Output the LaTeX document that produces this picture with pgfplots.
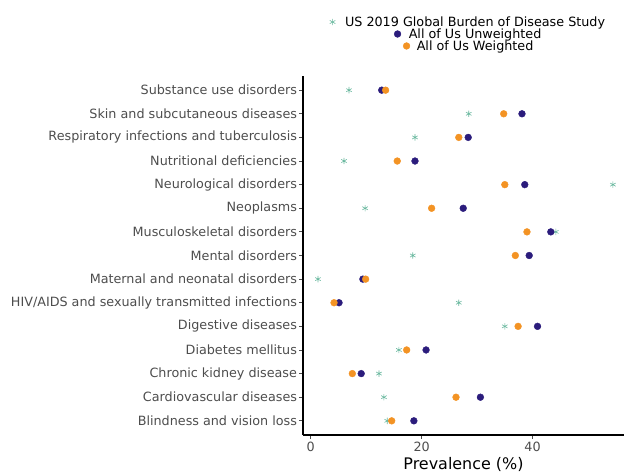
\documentclass[border=0pt]{standalone}
\usepackage{fontspec}
\setmainfont{DejaVu Sans}
\usepackage{pgfplots}
\usepackage{pgfplotstable}
\pgfplotsset{compat=1.18}

\definecolor{gbd}{HTML}{6BB9A0}
\definecolor{unw}{HTML}{2B1C7C}
\definecolor{wtd}{HTML}{F39324}
\definecolor{tickgrey}{HTML}{4D4D4D}

% y = row (1 = bottom), values in percent
\pgfplotstableread{
y   gbd   unw   wtd
1   13.8  18.6  14.6
2   13.2  30.6  26.2
3   12.3  9.1   7.5
4   15.9  20.8  17.3
5   35.0  40.9  37.4
6   26.7  5.1   4.2
7   1.3   9.4   9.9
8   18.4  39.4  36.9
9   44.2  43.3  39.0
10  9.8   27.5  21.8
11  54.5  38.6  35.0
12  6.0   18.8  15.6
13  18.8  28.4  26.7
14  28.5  38.1  34.8
15  6.9   12.8  13.5
}\prevdata

\begin{document}
\begin{tikzpicture}
\useasboundingbox (-303bp,-37bp) rectangle (321bp,435bp);
\begin{axis}[
  at={(0,0)}, anchor=south west,
  scale only axis,
  width=321bp, height=359bp,
  xmin=-1.4, xmax=56.5,
  ymin=0.4, ymax=15.6,
  clip=false,
  axis lines=left,
  axis line style={-, black, line width=1.1pt},
  tick align=outside,
  major tick length=3.5bp,
  tick style={tickgrey, line width=0.8pt},
  xtick={0,20,40},
  ytick={1,...,15},
  yticklabels={
    Blindness and vision loss,
    Cardiovascular diseases,
    Chronic kidney disease,
    Diabetes mellitus,
    Digestive diseases,
    HIV/AIDS and sexually transmitted infections,
    Maternal and neonatal disorders,
    Mental disorders,
    Musculoskeletal disorders,
    Neoplasms,
    Neurological disorders,
    Nutritional deficiencies,
    Respiratory infections and tuberculosis,
    Skin and subcutaneous diseases,
    Substance use disorders},
  ticklabel style={font=\fontsize{12.8}{14}\selectfont, text=tickgrey},
  yticklabel style={xshift=1bp},
  /pgf/number format/assume math mode=true,
  xlabel={Prevalence (\%)},
  xlabel style={font=\fontsize{16}{18}\selectfont, yshift=1bp},
  legend cell align=center,
  legend style={
    at={(0.508,1)}, anchor=center, xshift=9bp, yshift=42bp,
    draw=none, fill=none,
    font=\fontsize{12.8}{13}\selectfont,
    row sep=-2.2pt,
    nodes={inner sep=1.5pt},
  },
]
\addplot[only marks, mark=asterisk, mark size=3.2bp, gbd, line width=0.6pt,
  legend image post style={xshift=-19.5bp, overlay}]
  table[x=gbd, y=y] {\prevdata};
\addplot[only marks, mark=*, mark size=3.4bp, unw, draw=none, fill=unw,
  legend image post style={xshift=45.5bp, overlay}]
  table[x=unw, y=y] {\prevdata};
\addplot[only marks, mark=*, mark size=3.4bp, wtd, draw=none, fill=wtd,
  legend image post style={xshift=54.5bp, overlay}]
  table[x=wtd, y=y] {\prevdata};
\legend{US 2019 Global Burden of Disease Study, All of Us Unweighted, All of Us Weighted}
\end{axis}
\end{tikzpicture}
\end{document}
